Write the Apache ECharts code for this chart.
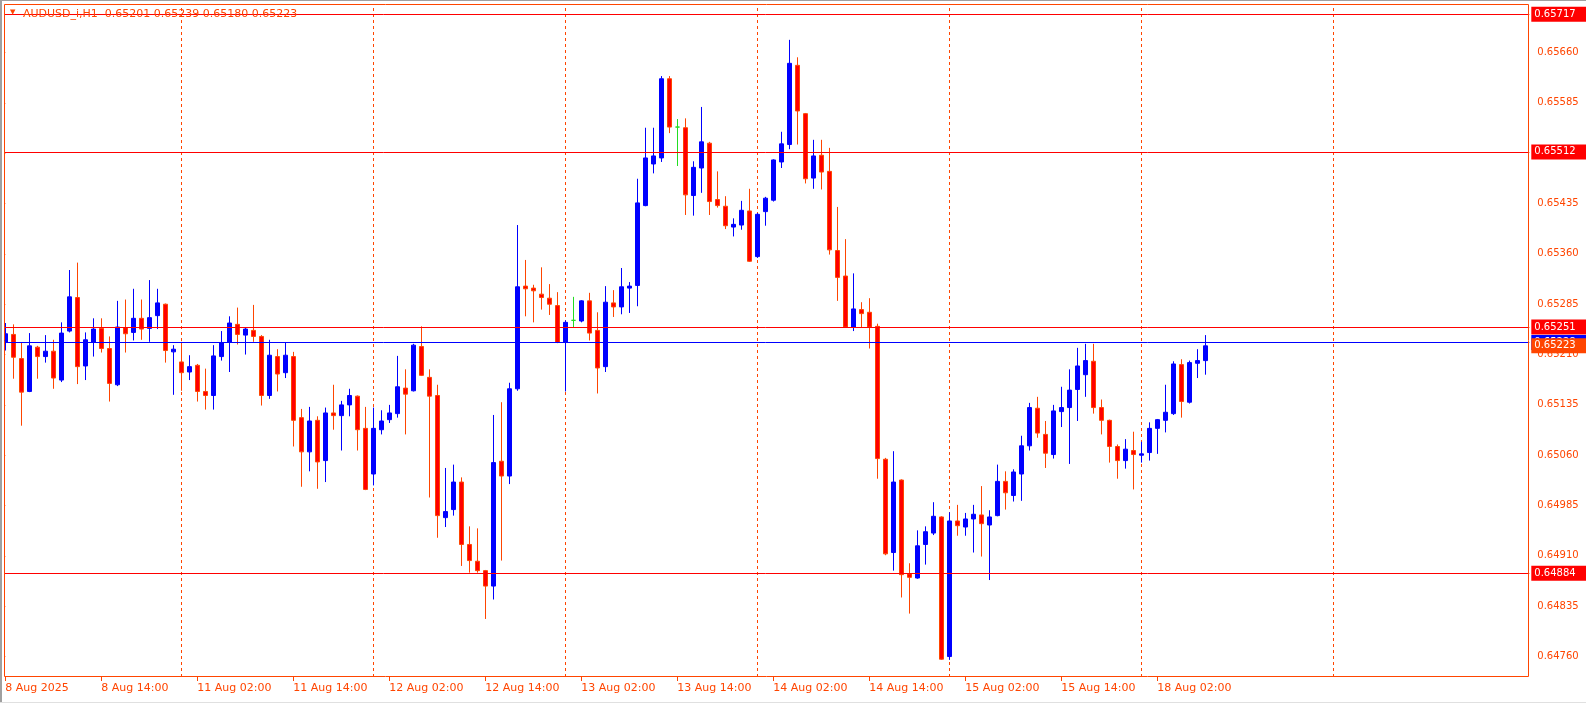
<!DOCTYPE html>
<html><head><meta charset="utf-8">
<script src="https://cdn.jsdelivr.net/npm/echarts@6/dist/echarts.min.js"></script>
<style>html,body{margin:0;padding:0;background:#fff;overflow:hidden}#c{width:1586px;height:703px}</style>
</head><body><div id="c"></div>
<script>
// ---------- data (prices in points, 1 point = 0.00001) ----------
const titleText = 'AUDUSD_i,H1  0.65201 0.65239 0.65180 0.65223';
const opens = [65228,65240,65204,65155,65221,65207,65215,65172,65245,65295,65193,65228,65249,65219,65165,65250,65243,65264,65249,65268,
65285,65214,65199,65184,65194,65155,65149,65207,65228,65255,65239,65246,65237,65149,65207,65183,65207,65116,65065,65112,
65052,65123,65119,65135,65148,65100,65032,65098,65113,65122,65160,65156,65222,65176,65149,64967,64979,65020,64927,64902,
64888,64865,65051,65029,65159,65312,65309,65300,65294,65283,65228,65261,65260,65290,65246,65192,65287,65281,65309,65313,
65432,65494,65503,65621,65549,65548,65447,65488,65525,65441,65431,65400,65403,65424,65356,65423,65440,65497,65523,65641,
65569,65473,65507,65483,65365,65327,65251,65277,65273,65252,65054,64915,65023,64883,64877,64927,64944,64968,64760,64962,
64953,64965,64971,64956,64970,65021,65000,65032,65074,65130,65091,65061,65125,65131,65158,65180,65200,65131,65112,65073,
65052,65067,65060,65064,65100,65112,65122,65195,65139,65197,65201];
const highs = [65257,65255,65228,65242,65223,65239,65232,65258,65336,65347,65243,65264,65264,65237,65290,65292,65308,65292,65321,65308,
65286,65224,65229,65209,65196,65189,65224,65245,65267,65280,65251,65284,65239,65232,65218,65228,65214,65129,65132,65118,
65131,65165,65141,65159,65149,65132,65131,65127,65135,65208,65188,65226,65252,65188,65165,65041,65046,65027,64954,64951,
64889,65120,65139,65168,65403,65351,65314,65340,65315,65303,65261,65296,65291,65302,65273,65312,65306,65339,65318,65472,
65548,65548,65625,65625,65561,65562,65498,65579,65527,65483,65446,65413,65439,65457,65421,65445,65501,65542,65679,65653,
65570,65530,65530,65518,65430,65382,65331,65288,65294,65256,65056,65066,65024,64899,64948,64954,64990,64969,64975,64986,
64974,64986,65014,64978,65046,65036,65039,65089,65138,65147,65111,65135,65162,65188,65220,65226,65226,65143,65113,65076,
65084,65095,65080,65109,65114,65165,65200,65203,65201,65218,65239];
const lows = [65216,65174,65104,65154,65174,65198,65159,65169,65243,65166,65172,65207,65213,65140,65163,65213,65231,65232,65229,65248,
65198,65150,65156,65172,65140,65128,65128,65201,65184,65225,65210,65229,65134,65144,65155,65175,65073,65013,65036,65010,
65020,65098,65067,65118,65067,65008,65015,65091,65108,65116,65091,65155,65178,64997,64937,64953,64970,64895,64885,64885,
64816,64845,64903,65017,65156,65267,65258,65277,65269,65227,65155,65250,65258,65231,65152,65184,65266,65270,65272,65282,
65431,65480,65497,65540,65491,65418,65417,65451,65418,65429,65397,65386,65396,65348,65354,65402,65438,65488,65516,65523,
65465,65457,65456,65359,65290,65250,65245,65251,65219,65025,64911,64888,64848,64824,64876,64897,64941,64755,64755,64940,
64940,64915,64909,64874,64969,64979,64991,64992,65067,65086,65041,65055,65102,65047,65111,65147,65122,65091,65049,65025,
65040,65009,65049,65052,65062,65094,65120,65116,65137,65175,65180];
const closes = [65241,65206,65154,65223,65207,65215,65175,65242,65296,65192,65232,65248,65219,65167,65251,65241,65264,65248,65265,65287,
65216,65218,65183,65192,65155,65149,65208,65228,65257,65240,65248,65237,65149,65209,65181,65209,65112,65065,65111,65050,
65123,65119,65135,65149,65098,65009,65100,65111,65123,65162,65151,65224,65179,65148,64970,64976,65020,64927,64903,64888,
64865,65049,65029,65159,65311,65308,65305,65295,65285,65228,65258,65261,65290,65242,65190,65288,65281,65311,65312,65436,
65503,65506,65621,65549,65549,65448,65489,65527,65438,65432,65402,65404,65425,65349,65419,65443,65500,65524,65644,65573,
65472,65506,65482,65366,65325,65251,65278,65271,65251,65055,64913,65020,64882,64878,64925,64946,64969,64756,64962,64955,
64965,64972,64958,64968,65021,65004,65035,65074,65131,65093,65063,65126,65131,65157,65193,65201,65131,65112,65073,65052,
65069,65061,65062,65100,65113,65124,65196,65140,65198,65201,65223];
const POINTS_PER_UNIT = 100000;

// time axis: hourly bars starting 8 Aug 02:00, weekend skipped
const dayNames = ['8 Aug','11 Aug','12 Aug','13 Aug','14 Aug','15 Aug','18 Aug','19 Aug'];
const firstHour = 2;
const totalSlots = 191;          // bars + empty right-hand shift
const firstLabel = '8 Aug 2025';
const labelEvery = 12;

// horizontal levels
const redLevels = [0.65717, 0.65512, 0.65251, 0.64884];
const blueLevel = 0.65228;
const bidPrice = 0.65223;

// price scale
const yMin = 0.647295, yMax = 0.657324;
const yTickMin = 0.64760, yTickMax = 0.65660, yTickStep = 0.00075;

// ---------- build ----------
const FG = '#FF4500';
const FONT = 'DejaVu Sans';
const DOJI = '#22DD22';

const categories = [];
const separators = [];
for (let di = 0; di < dayNames.length; di++) {
  for (let h = (di === 0 ? firstHour : 0); h < 24; h++) {
    if (categories.length >= totalSlots) break;
    const name = dayNames[di] + ' ' + String(h).padStart(2, '0') + ':00';
    if (h === 0 && di > 0) separators.push(name);
    categories.push(name);
  }
}
while (categories.length < totalSlots) categories.push('slot' + categories.length);

const candleData = opens.map((o, i) => {
  const v = [o / POINTS_PER_UNIT, closes[i] / POINTS_PER_UNIT, lows[i] / POINTS_PER_UNIT, highs[i] / POINTS_PER_UNIT];
  if (o === closes[i]) {
    return { value: v, itemStyle: { color: DOJI, color0: DOJI, borderColor: DOJI, borderColor0: DOJI } };
  }
  return v;
});

const showLabel = (idx) => idx % labelEvery === 0 && idx < opens.length;

function levelLabel(bg) {
  return {
    show: true, position: 'end', distance: 2,
    formatter: p => Number(p.value).toFixed(5),
    backgroundColor: bg, color: '#fff', fontFamily: FONT, fontSize: 10,
    padding: [2, 14, 2, 3], lineHeight: 11
  };
}

const chart = echarts.init(document.getElementById('c'), null, { renderer: 'canvas' });
chart.setOption({
  animation: false,
  backgroundColor: '#fff',
  grid: [
    { left: 1.3, top: 4, width: 1528, height: 673 },
    { left: 1.3, top: 52.55, width: 1528, height: 603.95 }
  ],
  xAxis: [
    {
      type: 'category', gridIndex: 0, data: categories, boundaryGap: true,
      axisLine: { show: false },
      axisTick: { show: true, interval: showLabel, alignWithLabel: true, length: 4, lineStyle: { color: FG } },
      axisLabel: { interval: showLabel, formatter: (val, idx) => idx === 0 ? firstLabel : val,
        color: FG, fontFamily: FONT, fontSize: 11, align: 'left', margin: 6 },
      splitLine: { show: false }
    },
    { type: 'value', gridIndex: 1, show: false, min: 0, max: 1 }
  ],
  yAxis: [
    { type: 'value', gridIndex: 0, min: yMin, max: yMax, show: false },
    {
      type: 'value', gridIndex: 1, position: 'right', min: yTickMin, max: yTickMax, interval: yTickStep,
      axisLine: { show: false },
      axisTick: { show: true, length: 4, lineStyle: { color: FG } },
      splitLine: { show: false },
      axisLabel: { color: FG, fontFamily: FONT, fontSize: 10, margin: 8, formatter: v => v.toFixed(5) }
    }
  ],
  series: [
    {
      type: 'candlestick', xAxisIndex: 0, yAxisIndex: 0, data: candleData, barWidth: 4, z: 2,
      itemStyle: { color: '#0000FF', color0: '#FF0000', borderColor: '#0000FF', borderColor0: FG, borderWidth: 1 },
      emphasis: { disabled: true }, silent: true
    },
    {
      type: 'line', xAxisIndex: 0, yAxisIndex: 0, data: [], silent: true,
      markLine: { silent: true, z: 1, symbol: ['none', 'none'], label: { show: false },
        lineStyle: { color: FG, type: [3, 3], width: 1 },
        emphasis: { disabled: true },
        data: separators.map(n => ({ xAxis: n })) }
    },
    {
      type: 'line', xAxisIndex: 0, yAxisIndex: 0, data: [], silent: true,
      markLine: { silent: true, z: 5, precision: 5, symbol: ['none', 'none'], label: levelLabel('#0000FF'),
        lineStyle: { color: '#0000FF', type: 'solid', width: 1 }, emphasis: { disabled: true },
        data: [{ yAxis: blueLevel }] }
    },
    {
      type: 'line', xAxisIndex: 0, yAxisIndex: 0, data: [], silent: true,
      markLine: { silent: true, z: 6, precision: 5, symbol: ['none', 'none'], label: levelLabel('#FF0000'),
        lineStyle: { color: '#FF0000', type: 'solid', width: 1 }, emphasis: { disabled: true },
        data: redLevels.map(v => ({ yAxis: v })) }
    },
    {
      type: 'line', xAxisIndex: 0, yAxisIndex: 0, data: [], silent: true,
      markLine: { silent: true, z: 7, precision: 5, symbol: ['none', 'none'], label: levelLabel(FG),
        lineStyle: { color: 'rgba(255,255,255,0)', width: 1 }, emphasis: { disabled: true },
        data: [{ yAxis: bidPrice }] }
    }
  ],
  graphic: [
    { type: 'rect', silent: true, z: 99, shape: { x: 0, y: 0, width: 4, height: 703 }, style: { fill: '#fff' } },
    { type: 'rect', silent: true, z: 100, shape: { x: 0, y: 0, width: 2, height: 703 }, style: { fill: '#a0a0a0' } },
    { type: 'rect', silent: true, z: 100, shape: { x: 0, y: 0, width: 1586, height: 1 }, style: { fill: '#a0a0a0' } },
    { type: 'rect', silent: true, z: 100, shape: { x: 0, y: 702, width: 1586, height: 1 }, style: { fill: '#e0e0e0' } },
    { type: 'rect', silent: true, z: 100, shape: { x: 4.5, y: 4.5, width: 1524, height: 672 },
      style: { fill: null, stroke: FG, lineWidth: 1 } },
    { type: 'text', silent: true, z: 101, left: 10, top: 9,
      style: { text: '▼', fill: FG, font: '7px "DejaVu Sans"' } },
    { type: 'text', silent: true, z: 101, left: 23, top: 9,
      style: { text: titleText, fill: FG, font: '11px "DejaVu Sans"' } }
  ]
});
</script>
</body></html>
